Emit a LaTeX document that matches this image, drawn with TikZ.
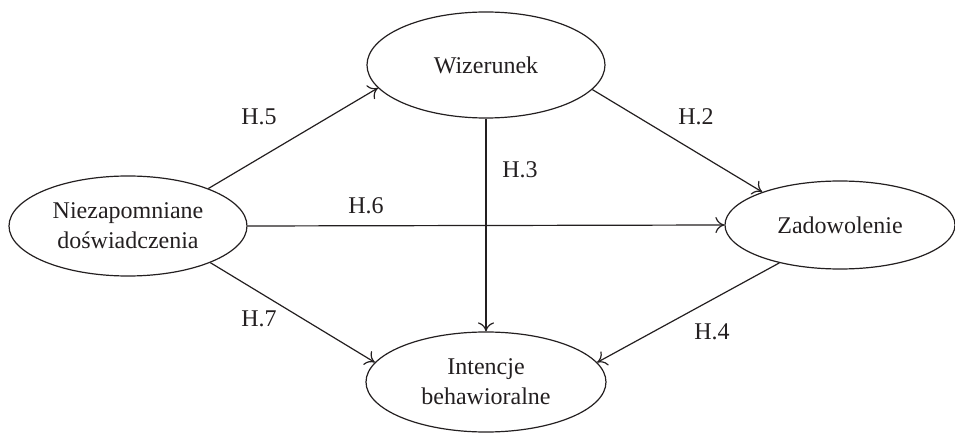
\documentclass[tikz,border=0pt]{standalone}
\usepackage{fontspec}
\setmainfont{Liberation Serif}
\usetikzlibrary{shapes.geometric, arrows.meta}
\definecolor{inkgray}{HTML}{231F20}
\tikzstyle{construct} = [ellipse, draw=inkgray, line width=0.6pt, inner sep=0pt, text centered, text=inkgray, align=center, font=\fontsize{12}{15}\selectfont]
\tikzstyle{hyp} = [text=inkgray, font=\fontsize{12}{15}\selectfont]
\tikzstyle{arrow} = [draw=inkgray, line width=0.6pt, -{To[length=4.5pt,width=8pt]}]

\begin{document}
\begin{tikzpicture}[x=0.5pt, y=-0.5pt]
    \useasboundingbox (0,0) rectangle (955,433);

    \node (nz) [construct, minimum width=119pt, minimum height=50pt] at (128,226) {Niezapomniane\\doświadczenia};
    \node (wz) [construct, minimum width=119pt, minimum height=53pt] at (486,65) {Wizerunek};
    \node (zd) [construct, minimum width=115pt, minimum height=44pt] at (840,225) {Zadowolenie};
    \node (ib) [construct, minimum width=120pt, minimum height=50pt] at (486,382) {Intencje\\behawioralne};

    \node (h5) [hyp] at (259,117) {H.5};
    \node (h6) [hyp] at (366,206) {H.6};
    \node (h7) [hyp] at (259,319) {H.7};
    \node (h3) [hyp] at (520,170) {H.3};
    \node (h2) [hyp] at (696,117) {H.2};
    \node (h4) [hyp] at (712,332) {H.4};

    \draw [arrow] (nz.25) -- (wz.192);
    \draw [arrow] (nz.east) -- (zd.west);
    \draw [arrow] (nz.-24) -- (ib.170);
    \draw [arrow] (wz.south) -- (ib.north);
    \draw [arrow] (wz.-13) -- (zd.157);
    \draw [arrow] (zd.212) -- (ib.10);
\end{tikzpicture}
\end{document}
